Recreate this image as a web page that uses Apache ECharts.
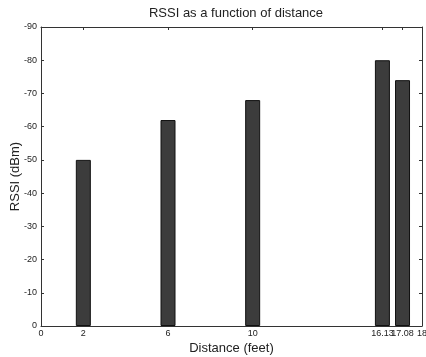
<!DOCTYPE html>
<html>
<head>
<meta charset="utf-8">
<script src="https://cdn.jsdelivr.net/npm/echarts@6/dist/echarts.min.js"></script>
<style>html,body{margin:0;padding:0;background:#fff}#c{width:426px;height:357px}</style>
</head>
<body>
<div id="c"></div>
<script>
const distances = [2, 6, 10, 16.13, 17.08];
const rssi = [-50, -62, -68, -80, -74];
const xTickValues = [0, 2, 6, 10, 16.13, 17.08, 18];
const xTickLabels = ['0', '2', '6', '10', '16.13', '17.08', '18'];
const yTickValues = [0, -10, -20, -30, -40, -50, -60, -70, -80, -90];

const chart = echarts.init(document.getElementById('c'), null, {renderer: 'canvas'});
const font = 'Liberation Sans, Arial, sans-serif';
const axisColor = '#333';
const xLabelMap = {};
xTickValues.forEach((v, i) => { xLabelMap[v] = xTickLabels[i]; });

chart.setOption({
  animation: false,
  backgroundColor: '#fff',
  title: {
    text: 'RSSI as a function of distance',
    left: 231, top: 2, textAlign: 'center',
    textStyle: {fontFamily: font, fontSize: 13, fontWeight: 'normal', color: '#222'}
  },
  grid: {left: 41, right: 4, top: 27, bottom: 31, outerBoundsMode: 'none', containLabel: false},
  xAxis: [{
    type: 'value', min: 0, max: 18, position: 'bottom',
    name: 'Distance (feet)', nameLocation: 'middle', nameGap: 16, nameMoveOverlap: false,
    nameTextStyle: {fontFamily: font, fontSize: 13, color: '#222'},
    axisLine: {show: true, onZero: false, lineStyle: {color: axisColor, width: 1}},
    axisTick: {show: true, inside: true, length: 3, customValues: xTickValues, lineStyle: {color: axisColor}},
    axisLabel: {customValues: xTickValues, formatter: v => xLabelMap[v] !== undefined ? xLabelMap[v] : '',
      fontFamily: font, fontSize: 9, color: '#222', margin: 3, hideOverlap: false},
    splitLine: {show: false}
  }, {
    type: 'value', min: 0, max: 18, position: 'top',
    axisLine: {show: true, onZero: false, lineStyle: {color: axisColor, width: 1}},
    axisTick: {show: true, inside: true, length: 3, customValues: xTickValues, lineStyle: {color: axisColor}},
    axisLabel: {show: false},
    splitLine: {show: false}
  }],
  yAxis: [{
    type: 'value', min: -90, max: 0, interval: 10, inverse: true, position: 'left',
    name: 'RSSI (dBm)', nameLocation: 'middle', nameGap: 19, nameMoveOverlap: false,
    nameTextStyle: {fontFamily: font, fontSize: 13, color: '#222'},
    axisLine: {show: true, onZero: false, lineStyle: {color: axisColor, width: 1}},
    axisTick: {show: true, inside: true, length: 3, customValues: yTickValues, lineStyle: {color: axisColor}},
    axisLabel: {customValues: yTickValues, fontFamily: font, fontSize: 9, color: '#222', margin: 4},
    splitLine: {show: false}
  }, {
    type: 'value', min: -90, max: 0, interval: 10, inverse: true, position: 'right',
    axisLine: {show: true, onZero: false, lineStyle: {color: axisColor, width: 1}},
    axisTick: {show: true, inside: true, length: 3, customValues: yTickValues, lineStyle: {color: axisColor}},
    axisLabel: {show: false},
    splitLine: {show: false}
  }],
  series: [{
    type: 'bar',
    xAxisIndex: 0, yAxisIndex: 0,
    barWidth: 15,
    data: distances.map((d, i) => [d, rssi[i]]),
    itemStyle: {color: '#3c3c3c', borderColor: '#111', borderWidth: 1}
  }]
});
</script>
</body>
</html>
